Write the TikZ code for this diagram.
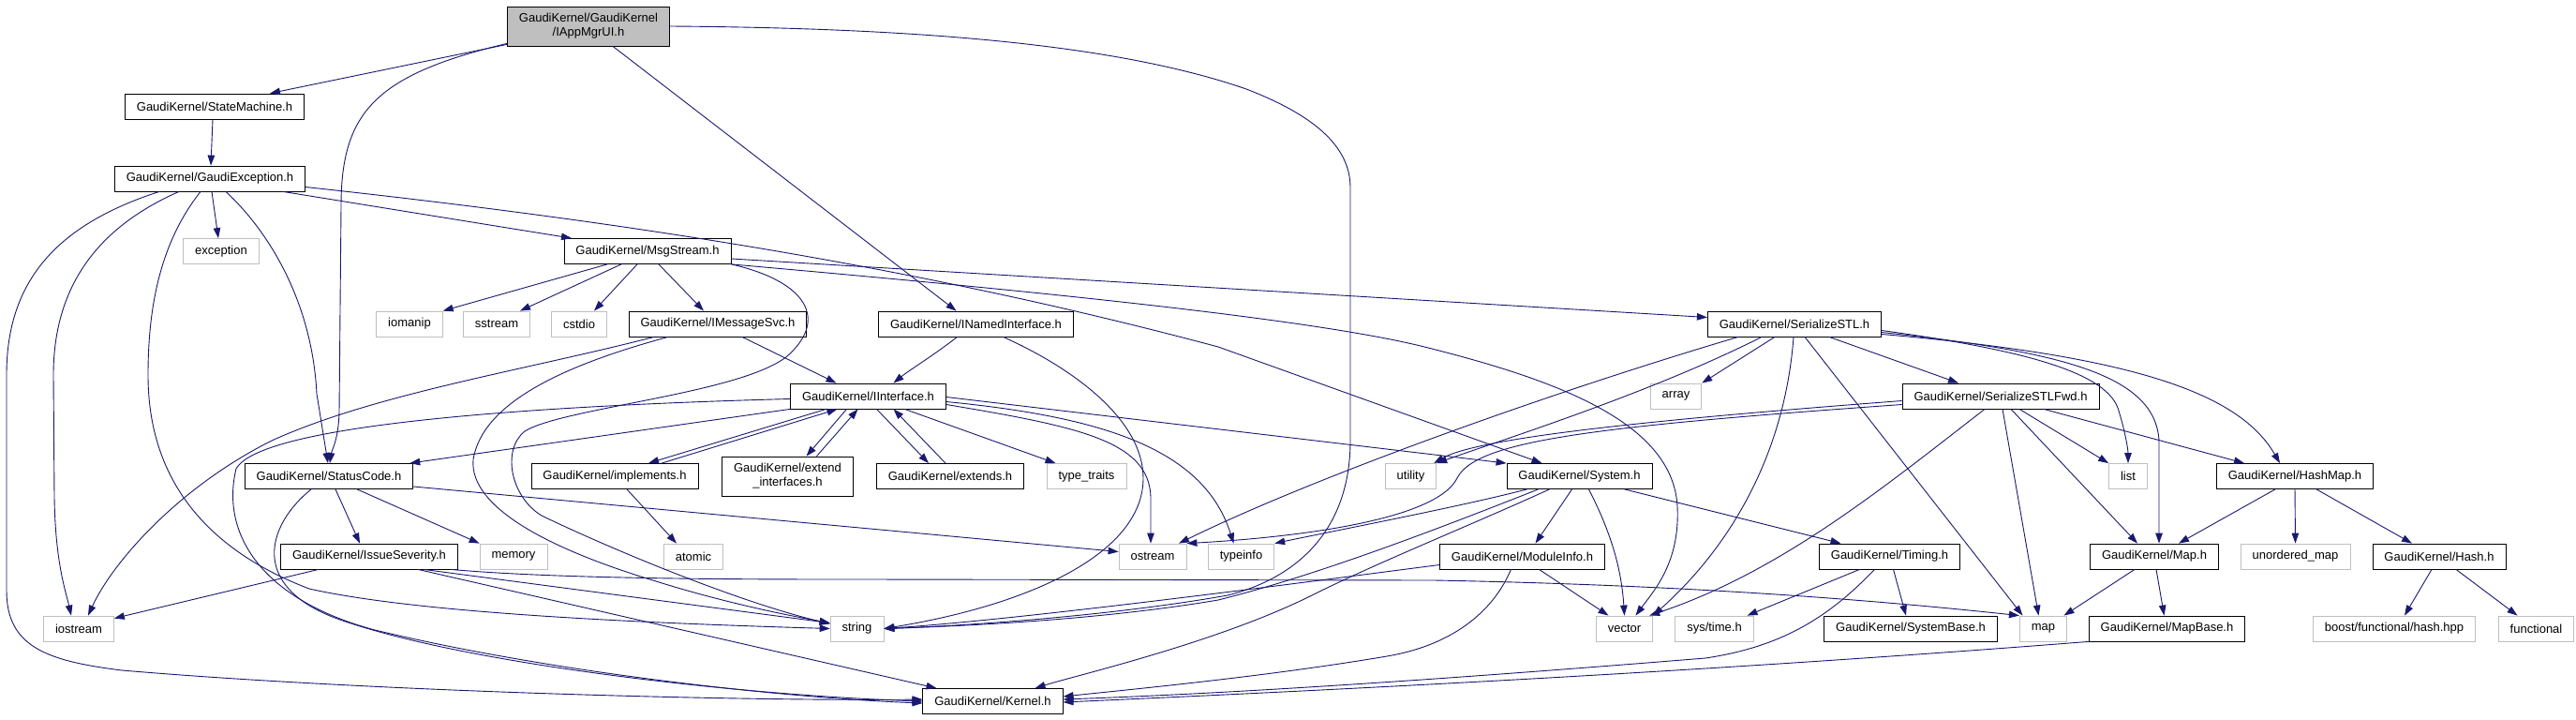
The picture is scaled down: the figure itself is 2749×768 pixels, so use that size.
\documentclass[tikz,border=0pt]{standalone}
\usepackage{fontspec}
\setmainfont{Liberation Sans}
\usetikzlibrary{arrows.meta}
\definecolor{edgeblue}{HTML}{191970}
\definecolor{extgray}{HTML}{BFBFBF}
\newcommand{\gkfont}{\fontsize{13}{15}\selectfont}
\tikzset{
  gk/.style={draw=black, line width=0.8pt, fill=white, inner xsep=12.5pt, inner ysep=0pt, minimum height=27pt, font=\gkfont, text=black},
  extnode/.style={gk, draw=extgray},
  rootnode/.style={gk, fill=extgray},
  dep/.style={draw=edgeblue, line width=0.9pt, -{Triangle[length=11pt,width=7.5pt]}},
}
\begin{document}
\begin{tikzpicture}[x=1pt,y=-1pt]
\useasboundingbox (0,0) rectangle (2749,768);
\fill[white] (0,0) rectangle (2749,768);
% nodes
\node[rootnode, align=center, minimum height=42pt] (app) at (628,28) {GaudiKernel/GaudiKernel\\/IAppMgrUI.h};
\node[gk] (sm) at (229,113.5) {GaudiKernel/StateMachine.h};
\node[gk] (ge) at (224,190.5) {GaudiKernel/GaudiException.h};
\node[extnode] (exc) at (236,268) {exception};
\node[gk] (ms) at (691,268) {GaudiKernel/MsgStream.h};
\node[extnode] (iomanip) at (437,345.5) {iomanip};
\node[extnode] (sstream) at (530,345.5) {sstream};
\node[extnode] (cstdio) at (618,345.5) {cstdio};
\node[gk] (ims) at (766,345.5) {GaudiKernel/IMessageSvc.h};
\node[gk] (ini) at (1041.5,345.5) {GaudiKernel/INamedInterface.h};
\node[gk] (sstl) at (1915,345.5) {GaudiKernel/SerializeSTL.h};
\node[gk] (ii) at (926.5,422.5) {GaudiKernel/IInterface.h};
\node[extnode] (array) at (1788.5,422.5) {array};
\node[gk] (sfwd) at (2135,422.5) {GaudiKernel/SerializeSTLFwd.h};
\node[gk] (sc) at (351,508) {GaudiKernel/StatusCode.h};
\node[gk] (impl) at (656,508) {GaudiKernel/implements.h};
\node[gk, align=center, minimum height=42pt] (extif) at (840.5,508) {GaudiKernel/extend\\\_interfaces.h};
\node[gk] (extends) at (1014,508) {GaudiKernel/extends.h};
\node[extnode] (tt) at (1159.5,508) {type\_traits};
\node[extnode] (util) at (1505.5,508) {utility};
\node[gk] (sys) at (1685.5,508) {GaudiKernel/System.h};
\node[extnode] (list) at (2271,508) {list};
\node[gk] (hm) at (2449,508) {GaudiKernel/HashMap.h};
\node[gk] (is) at (394,593.5) {GaudiKernel/IssueSeverity.h};
\node[extnode] (mem) at (548,593.5) {memory};
\node[extnode] (atomic) at (740,593.5) {atomic};
\node[extnode] (ostream) at (1230,593.5) {ostream};
\node[extnode] (typeinfo) at (1324.5,593.5) {typeinfo};
\node[gk] (mi) at (1624.5,593.5) {GaudiKernel/ModuleInfo.h};
\node[gk] (tim) at (2016.5,593.5) {GaudiKernel/Timing.h};
\node[gk] (maph) at (2299,593.5) {GaudiKernel/Map.h};
\node[extnode] (umap) at (2449.5,593.5) {unordered\_map};
\node[gk] (hash) at (2603,593.5) {GaudiKernel/Hash.h};
\node[extnode] (iostream) at (84,670.5) {iostream};
\node[extnode] (string) at (914.5,670.5) {string};
\node[extnode] (vector) at (1733.5,670.5) {vector};
\node[extnode] (systime) at (1829.5,670.5) {sys/time.h};
\node[gk] (sb) at (2039,670.5) {GaudiKernel/SystemBase.h};
\node[extnode] (map) at (2180.5,670.5) {map};
\node[gk] (mb) at (2312.5,670.5) {GaudiKernel/MapBase.h};
\node[extnode] (boost) at (2555,670.5) {boost/functional/hash.hpp};
\node[extnode] (functional) at (2706.5,670.5) {functional};
\node[gk] (kernel) at (1059.5,748) {GaudiKernel/Kernel.h};
% IAppMgrUI
\draw[dep] ([yshift=2]app.south west) -- ([xshift=59]sm.north);
\draw[dep] ([yshift=3]app.south west) .. controls (400,80) and (364,120) .. (364,220) -- (362,440) .. controls (361,470) and (354,480) .. ([xshift=1]sc.north);
\draw[dep] ([xshift=26]app.south) -- ([xshift=-21]ini.north);
\draw[dep] (app.east) .. controls (1000,30) and (1200,50) .. (1330,95) .. controls (1400,122) and (1441,155) .. (1441,200) -- (1441,470) .. controls (1441,560) and (1390,615) .. (1310,635) .. controls (1180,658) and (1020,668) .. (string.east);
% StateMachine
\draw[dep] ([xshift=-2]sm.south) -- ([xshift=1]ge.north);
% GaudiException
\draw[dep] ([xshift=2]ge.south) -- ([xshift=-3]exc.north);
\draw[dep] ([xshift=78]ge.south) -- ([xshift=-81]ms.north);
\draw[dep] ([xshift=17]ge.south) .. controls (285,245) and (333,320) .. (338,420) -- ([xshift=-1]sc.north);
\draw[dep] ([xshift=-33]ge.south) .. controls (110,240) and (57,300) .. (57,400) -- (58,530) .. controls (59,600) and (70,630) .. ([xshift=-8]iostream.north);
\draw[dep] ([xshift=-10]ge.south) .. controls (170,260) and (158,330) .. (158,400) .. controls (158,520) and (230,590) .. (330,628) .. controls (450,655) and (700,665) .. (string.west);
\draw[dep] ([xshift=-54]ge.south) .. controls (60,240) and (7,300) .. (7,400) -- (7,630) .. controls (7,690) and (50,705) .. (130,715) .. controls (400,738) and (800,748) .. ([yshift=2]kernel.west);
\draw[dep] ([yshift=-9]ge.east) .. controls (700,240) and (1000,290) .. (1300,370) -- ([xshift=-40]sys.north);
% MsgStream
\draw[dep] ([xshift=-43]ms.south) -- (iomanip.north east);
\draw[dep] ([xshift=-28]ms.south) -- ([xshift=25]sstream.north);
\draw[dep] ([xshift=-11]ms.south) -- ([xshift=16]cstdio.north);
\draw[dep] ([xshift=12]ms.south) -- ([xshift=-15]ims.north);
\draw[dep] ([yshift=-8]ms.east) -- ([yshift=7]sstl.west);
\draw[dep] (ms.south east) .. controls (1100,310) and (1400,340) .. (1520,370) .. controls (1660,405) and (1785,450) .. (1790,540) .. controls (1793,600) and (1765,630) .. ([xshift=12]vector.north);
\draw[dep] (ms.south east) .. controls (860,300) and (885,340) .. (840,380) .. controls (790,420) and (600,435) .. (560,460) .. controls (535,480) and (545,530) .. (578,550) .. controls (640,580) and (780,640) .. ([yshift=5]string.west);
% IMessageSvc
\draw[dep] ([xshift=26]ims.south) -- ([xshift=-34]ii.north);
\draw[dep] ([xshift=-68]ims.south) .. controls (560,395) and (400,420) .. (290,470) .. controls (190,520) and (120,600) .. ([xshift=10]iostream.north);
\draw[dep] ([xshift=-53]ims.south) .. controls (600,390) and (515,430) .. (505,490) .. controls (500,545) and (600,590) .. (700,620) .. controls (780,645) and (850,658) .. ([yshift=6]string.west);
% INamedInterface
\draw[dep] ([xshift=-20]ini.south) .. controls (995,380) and (970,395) .. ([xshift=27]ii.north);
\draw[dep] ([xshift=29]ini.south) .. controls (1150,395) and (1220,450) .. (1220,510) .. controls (1220,590) and (1100,645) .. (string.east);
% IInterface
\draw[dep] (ii.south west) -- ([xshift=-4]sc.north east);
\draw[dep] ([yshift=-3]ii.west) .. controls (600,432) and (280,450) .. (252,500) .. controls (235,570) and (280,640) .. (400,672) .. controls (600,720) and (850,745) .. ([yshift=-2]kernel.west);
\draw[dep] ([xshift=-45]ii.south) -- ([xshift=36]impl.north);
\draw[dep] ([xshift=50]impl.north) -- ([xshift=-33]ii.south);
\draw[dep] ([xshift=-23]ii.south) -- ([xshift=20]extif.north);
\draw[dep] ([xshift=31]extif.north) -- ([xshift=-11]ii.south);
\draw[dep] ([xshift=9]ii.south) -- ([xshift=-23]extends.north);
\draw[dep] ([xshift=-5]extends.north) -- ([xshift=27]ii.south);
\draw[dep] ([xshift=39]ii.south) -- ([xshift=-33]tt.north);
\draw[dep] ([yshift=-9]ii.east) .. controls (1150,455) and (1226,470) .. (1228,530) -- ([xshift=-2]ostream.north);
\draw[dep] ([yshift=-6]ii.east) .. controls (1180,445) and (1285,480) .. ([xshift=-8]typeinfo.north);
\draw[dep] ([yshift=-1]ii.east) -- (sys.north west);
% StatusCode
\draw[dep] ([xshift=7]sc.south) -- ([xshift=-10]is.north);
\draw[dep] ([xshift=30]sc.south) -- (mem.north west);
\draw[dep] ([yshift=-11]sc.east) -- ([yshift=5]ostream.west);
\draw[dep] ([xshift=-19]sc.south) .. controls (285,560) and (265,625) .. (360,660) .. controls (500,710) and (800,742) .. (kernel.west);
% IssueSeverity
\draw[dep] ([xshift=-54]is.south) -- ([yshift=-3]iostream.north east);
\draw[dep] ([xshift=52]is.south) -- ([xshift=-60]kernel.north);
\draw[dep] ([xshift=87]is.south) .. controls (600,618) and (800,618) .. (920,618) -- (1530,619) .. controls (1800,624) and (2000,640) .. (map.north west);
\draw[dep] ([xshift=58]is.south) -- ([yshift=6]string.west);
% ModuleInfo
\draw[dep] ([yshift=-9]mi.west) .. controls (1400,620) and (1100,660) .. (string.east);
\draw[dep] ([xshift=18]mi.south) -- ([xshift=-17]vector.north);
\draw[dep] ([xshift=-12]mi.south) .. controls (1590,660) and (1540,690) .. (1480,700) .. controls (1350,722) and (1200,736) .. ([yshift=5]kernel.east);
% System
\draw[dep] ([xshift=-8]sys.south) -- ([xshift=14]mi.north);
\draw[dep] ([xshift=10]sys.south) .. controls (1715,560) and (1730,600) .. (vector.north);
\draw[dep] ([xshift=48]sys.south) -- ([xshift=-52]tim.north);
\draw[dep] ([xshift=-32]sys.south) .. controls (1570,560) and (1470,600) .. (1400,635) .. controls (1300,685) and (1150,720) .. ([xshift=45]kernel.north);
\draw[dep] ([xshift=-44]sys.south) .. controls (1520,570) and (1400,615) .. (1300,640) .. controls (1170,662) and (1020,668) .. (string.east);
\draw[dep] ([xshift=-56]sys.south) .. controls (1560,540) and (1430,565) .. (typeinfo.north east);
% SerializeSTL
\draw[dep] ([xshift=-35]sstl.south) .. controls (1760,420) and (1600,470) .. (util.north east);
\draw[dep] ([xshift=-60]sstl.south) .. controls (1650,420) and (1400,510) .. ([xshift=28]ostream.north);
\draw[dep] ([xshift=-21]sstl.south) -- (array.north east);
\draw[dep] ([xshift=-1]sstl.south) .. controls (1905,480) and (1850,580) .. (vector.north east);
\draw[dep] ([xshift=11]sstl.south) -- ([xshift=-22]map.north);
\draw[dep] ([xshift=37]sstl.south) -- ([xshift=-45]sfwd.north);
\draw[dep] ([yshift=-7]sstl.east) .. controls (2150,372) and (2245,395) .. (2260,435) .. controls (2268,460) and (2271,480) .. (list.north);
\draw[dep] ([yshift=-9]sstl.east) .. controls (2200,375) and (2300,400) .. (2304,470) -- ([xshift=5]maph.north);
\draw[dep] ([yshift=-11]sstl.east) .. controls (2280,380) and (2390,420) .. ([xshift=-16]hm.north);
% SerializeSTLFwd
\draw[dep] ([yshift=-5]sfwd.west) .. controls (1800,445) and (1580,465) .. ([xshift=-3]util.north east);
\draw[dep] ([yshift=-9]sfwd.west) .. controls (1700,455) and (1575,470) .. (1555,510) .. controls (1530,560) and (1350,575) .. (ostream.north east);
\draw[dep] ([xshift=-17]sfwd.south) .. controls (2010,520) and (1900,610) .. ([xshift=-4]vector.north east);
\draw[dep] ([xshift=2]sfwd.south) -- ([xshift=-5]map.north);
\draw[dep] ([xshift=11]sfwd.south) -- ([xshift=-18]maph.north);
\draw[dep] ([xshift=20]sfwd.south) -- (list.north west);
\draw[dep] ([xshift=46]sfwd.south) -- ([xshift=-54]hm.north);
% HashMap
\draw[dep] ([xshift=-21]hm.south) -- ([xshift=26]maph.north);
\draw[dep] (hm.south) -- (umap.north);
\draw[dep] ([xshift=23]hm.south) -- ([xshift=-29]hash.north);
% Map
\draw[dep] ([xshift=-21]maph.south) -- ([xshift=22]map.north);
\draw[dep] ([xshift=2]maph.south) -- ([xshift=-3]mb.north);
% MapBase
\draw[dep] (mb.south west) .. controls (1800,718) and (1400,737) .. ([yshift=-1]kernel.east);
% Timing
\draw[dep] ([xshift=-32]tim.south) -- ([xshift=35]systime.north);
\draw[dep] ([xshift=4]tim.south) -- ([xshift=-5]sb.north);
\draw[dep] ([xshift=-16]tim.south) .. controls (1950,660) and (1900,690) .. (1820,702) .. controls (1500,728) and (1300,740) .. ([yshift=2]kernel.east);
% Hash
\draw[dep] ([xshift=-8]hash.south) -- ([xshift=11]boost.north);
\draw[dep] ([xshift=18]hash.south) -- ([xshift=-20]functional.north);
% implements
\draw[dep] ([xshift=13]impl.south) -- ([xshift=-18]atomic.north);
\end{tikzpicture}
\end{document}
